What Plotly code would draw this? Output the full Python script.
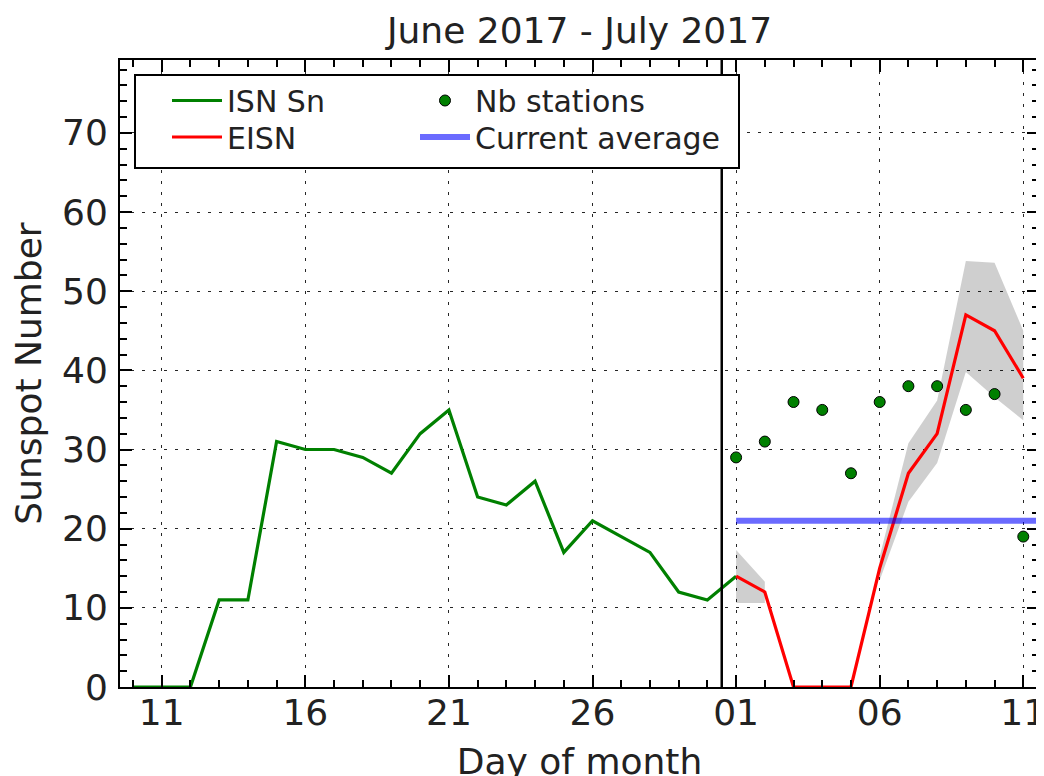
import plotly.graph_objects as go
import pandas as pd

# ---------------- data ----------------
isn_dates = pd.date_range("2017-06-10", "2017-07-01", freq="D")
isn_values = [0, 0, 0, 11, 11, 31, 30, 30, 29, 27, 32, 35, 24, 23, 26, 17, 21, 19, 17, 12, 11, 14]

eisn_dates = pd.date_range("2017-07-01", "2017-07-11", freq="D")
eisn_values = [14, 12, 0, 0, 0, 15, 27, 32, 47, 45, 39]
eisn_upper = [17.3, 13.3, None, None, None, 16.5, 30.8, 36.2, 53.8, 53.6, 45.0]
eisn_lower = [10.6, 10.6, None, None, None, 13.5, 23.4, 28.3, 39.8, 36.6, 33.7]

nb_stations = [29, 31, 36, 35, 27, 36, 38, 38, 35, 37, 19]

avg_dates = ["2017-07-01", "2017-07-12"]
current_average = 21.0

separator_date = "2017-06-30 12:00"

# ---------------- styling ----------------
FONT = "DejaVu Sans"
PAGE_OFF = 8                     # default body margin of the html page
EXTRA_B = 6                      # figure runs slightly past the window bottom (as in the original)
W, H = 1044 - PAGE_OFF, 776 - PAGE_OFF + EXTRA_B
AX_L, AX_R, AX_T, AX_B = 120, 1039, 60, 687   # plot-area edges in window pixels
ML, MT = AX_L - PAGE_OFF, AX_T - PAGE_OFF
MR, MB = 1044 - AX_R, 776 - AX_B + EXTRA_B
PW = AX_R - AX_L
PH = AX_B - AX_T


def px_x(px):
    return (px - AX_L) / PW


def px_y(py):
    return (AX_B - py) / PH


# build the gray uncertainty band from contiguous segments
band_x, band_y = [], []
seg = []
for d, lo, up in zip(eisn_dates, eisn_lower, eisn_upper):
    if lo is None or up is None:
        if seg:
            xs = [s[0] for s in seg]
            band_x += xs + xs[::-1] + [None]
            band_y += [s[2] for s in seg] + [s[1] for s in seg][::-1] + [None]
            seg = []
    else:
        seg.append((d, lo, up))
if seg:
    xs = [s[0] for s in seg]
    band_x += xs + xs[::-1]
    band_y += [s[2] for s in seg] + [s[1] for s in seg][::-1]

fig = go.Figure()

fig.add_trace(go.Scatter(
    x=band_x, y=band_y, mode="none", fill="toself",
    fillcolor="rgba(0,0,0,0.19)", showlegend=False, hoverinfo="skip"))

fig.add_trace(go.Scatter(
    x=isn_dates, y=isn_values, mode="lines", name="ISN Sn",
    line=dict(color="#008000", width=3.2), legend="legend"))

fig.add_trace(go.Scatter(
    x=eisn_dates, y=eisn_values, mode="lines", name="EISN",
    line=dict(color="#ff0000", width=3.2), legend="legend3"))

fig.add_trace(go.Scatter(
    x=eisn_dates, y=nb_stations, mode="markers", name="Nb stations",
    marker=dict(color="#008000", size=11, line=dict(color="black", width=1)),
    legend="legend2"))

fig.add_trace(go.Scatter(
    x=avg_dates, y=[current_average] * len(avg_dates), mode="lines",
    name="Current average",
    line=dict(color="rgba(0,0,255,0.58)", width=6), legend="legend4"))

# vertical separator
fig.add_shape(type="line", xref="x", yref="paper", x0=separator_date, x1=separator_date,
              y0=0, y1=1, line=dict(color="black", width=2.5))

# legend frame
fig.add_shape(type="rect", xref="paper", yref="paper",
              x0=px_x(135), x1=px_x(739), y0=px_y(168), y1=px_y(75),
              line=dict(color="black", width=2), fillcolor="white", layer="above")

leg_font = dict(family=FONT, size=30, color="#222222")
col1_left, col2_left = 167, 415
row1_y, row2_y = 100.5, 137
common_leg = dict(bgcolor="rgba(0,0,0,0)", borderwidth=0, font=leg_font,
                  xanchor="left", yanchor="middle", itemwidth=50)

axis_common = dict(
    showline=True, linewidth=2, linecolor="black", mirror="allticks",
    ticks="inside", ticklen=12, tickwidth=1.5, tickcolor="black",
    showgrid=True, gridcolor="rgba(0,0,0,0.85)", gridwidth=1.3, griddash="3px,8px",
    zeroline=False, ticklabeloverflow="allow",
    tickfont=dict(family=FONT, size=36, color="#222222"),
)

fig.update_layout(
    width=W, height=H,
    margin=dict(l=ML, r=MR, t=MT, b=MB, autoexpand=False),
    paper_bgcolor="white", plot_bgcolor="white",
    font=dict(family=FONT, color="#222222"),
    title=dict(text="June 2017 - July 2017", x=px_x(579.5), xref="paper", xanchor="center",
               y=1 - (30.8 - PAGE_OFF) / H, yref="container", yanchor="middle",
               font=dict(family=FONT, size=36, color="#222222")),
    xaxis=dict(
        type="date",
        range=["2017-06-09 13:08", "2017-07-11 13:08"],
        tickmode="linear", tick0="2017-06-11", dtick=5 * 86400000, tickformat="%d",
        ticklabelstandoff=-7,
        minor=dict(ticks="inside", ticklen=7, tickwidth=1.5, tickcolor="black",
                   tickmode="linear", tick0="2017-06-10", dtick=86400000, showgrid=False),
        title=dict(text="Day of month", font=dict(family=FONT, size=36, color="#222222"),
                   standoff=41),
        **axis_common,
    ),
    yaxis=dict(
        range=[0, 79.2],
        tickmode="linear", tick0=0, dtick=10,
        ticklabelstandoff=3,
        minor=dict(ticks="inside", ticklen=7, tickwidth=1.5, tickcolor="black",
                   tickmode="linear", tick0=0, dtick=2, showgrid=False),
        title=dict(text="Sunspot Number", font=dict(family=FONT, size=36, color="#222222"),
                   standoff=11),
        **axis_common,
    ),
    legend=dict(x=px_x(col1_left), y=px_y(row1_y), **common_leg),
    legend2=dict(x=px_x(col2_left), y=px_y(row1_y), **common_leg),
    legend3=dict(x=px_x(col1_left), y=px_y(row2_y), **common_leg),
    legend4=dict(x=px_x(col2_left), y=px_y(row2_y), **common_leg),
    showlegend=True,
)

fig.write_html("out.html")
